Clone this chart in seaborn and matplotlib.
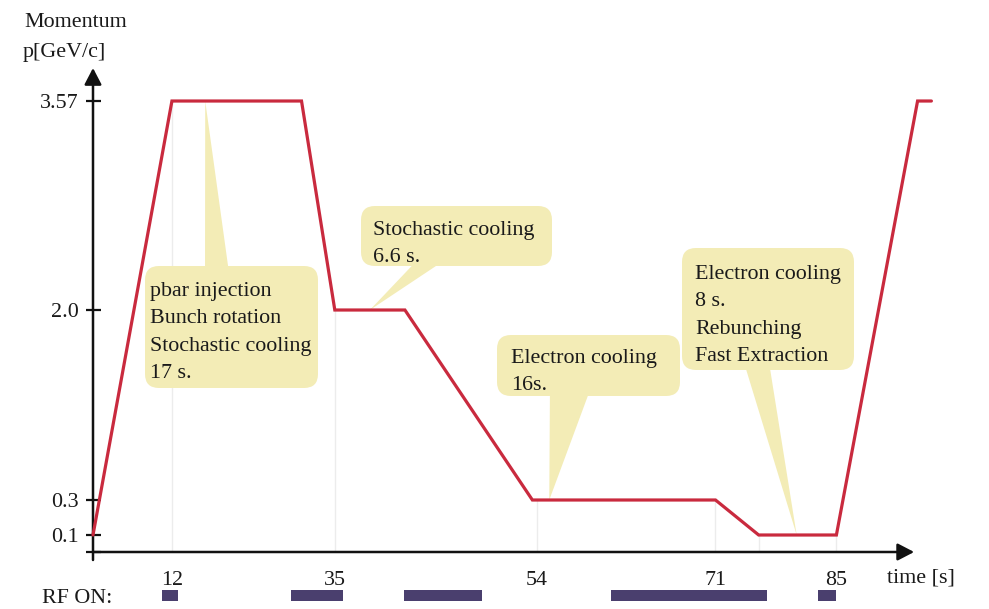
import numpy as np
import pandas as pd
import matplotlib
matplotlib.use("Agg")
import matplotlib.pyplot as plt
import seaborn as sns
from matplotlib.patches import FancyBboxPatch, Polygon
from matplotlib.transforms import Affine2D

# ---------------- data ----------------
time_s = [0, 12, 30.3, 35, 41.6, 53.6, 71, 76, 85, 94.4, 96]
momentum = [0.1, 3.57, 3.57, 2.0, 2.0, 0.3, 0.3, 0.1, 0.1, 3.57, 3.57]

x_tick_times = [12, 35, 54, 71, 85]
x_tick_labels = ["12", "35", "54", "71", "85"]
y_tick_values = [0, 0.1, 0.3, 2.0, 3.57]
y_tick_labels = ["", "0.1", "0.3", "2.0", "3.57"]

drop_times = [12, 35, 54, 71, 76, 85]

rf_start = [10.5, 28.8, 41.5, 61.1, 82.9]
rf_end = [12.85, 35.75, 48.9, 77.0, 85.0]

callout_texts = [
    ["pbar injection", "Bunch rotation", "Stochastic cooling", "17 s."],
    ["Stochastic cooling", "6.6 s."],
    ["Electron cooling", "16s."],
    ["Electron cooling", "8 s.", "Rebunching", "Fast Extraction"],
]
callout_tip_time = [16.7, 38.3, 55.2, 80.4]
callout_tip_mom = [3.57, 2.0, 0.3, 0.1]

# ---------------- layout (pixels) ----------------
W, H = 989, 609
# schematic (non-linear) axis: knots -> screen position
t_knots = [0, 12, 35, 54, 71, 85]
t_pos = [0, 79, 242, 444, 623, 744]
m_knots = [0, 0.1, 0.3, 2.0, 3.57]
m_pos = [0, 17, 52, 242, 451]


def piecewise(xk, yk):
    xk = np.asarray(xk, float)
    yk = np.asarray(yk, float)
    s0 = (yk[1] - yk[0]) / (xk[1] - xk[0])
    s1 = (yk[-1] - yk[-2]) / (xk[-1] - xk[-2])

    def f(v):
        v = np.asarray(v, float)
        out = np.interp(v, xk, yk)
        out = np.where(v < xk[0], yk[0] + (v - xk[0]) * s0, out)
        out = np.where(v > xk[-1], yk[-1] + (v - xk[-1]) * s1, out)
        return out
    return f


fx, ix = piecewise(t_knots, t_pos), piecewise(t_pos, t_knots)
fy, iy = piecewise(m_knots, m_pos), piecewise(m_pos, m_knots)

sns.set_style("white")
plt.rcParams["font.family"] = ["Liberation Serif", "DejaVu Serif"]
FS = 15.8
TXT = "#1a1a1a"
RED = "#c92a3e"
PURPLE = "#4a3f6e"
YEL = "#f3ecb6"

fig = plt.figure(figsize=(W / 100, H / 100), dpi=100)
fig.patch.set_facecolor("white")
ax = fig.add_axes([93 / W, (H - 552) / H, 839 / W, 484 / H])
ax.patch.set_alpha(0)

df = pd.DataFrame({"time": time_s, "momentum": momentum})
sns.lineplot(data=df, x="time", y="momentum", ax=ax, color=RED, lw=2.3,
             estimator=None, sort=False, zorder=4, clip_on=False)
for ln in ax.lines:
    ln.set_solid_joinstyle("miter")

ax.set_xscale("function", functions=(fx, ix))
ax.set_yscale("function", functions=(fy, iy))
XMAX = 96.07
YMAX = 3.818
ax.set_xlim(0, XMAX)
ax.set_ylim(0, YMAX)
ax.set_xlabel("")
ax.set_ylabel("")
for s in ax.spines.values():
    s.set_visible(False)

# faint drop lines
curve_at = np.interp(drop_times, time_s, momentum)
ax.vlines(drop_times, 0, curve_at, color="#ececec", lw=1, zorder=1)

ax.set_xticks(x_tick_times, x_tick_labels)
ax.set_yticks(y_tick_values, y_tick_labels)
ax.xaxis.set_minor_locator(matplotlib.ticker.NullLocator())
ax.yaxis.set_minor_locator(matplotlib.ticker.NullLocator())
ax.tick_params(axis="x", bottom=True, length=0, pad=14, labelsize=FS,
               labelcolor=TXT)
ax.tick_params(axis="y", left=True, direction="inout", length=10.8, width=1.6,
               color="#111111", pad=5, labelsize=FS, labelcolor=TXT)

# axis arrows
arr = dict(arrowstyle="-|>,head_length=1.0,head_width=0.52", lw=1.8,
           color="#111111", shrinkA=0, shrinkB=0, mutation_scale=10)
ax.annotate("", xy=(0, 1), xytext=(0, -8 / 484), xycoords="axes fraction",
            arrowprops=arr, annotation_clip=False)
ax.annotate("", xy=(94.0, 0), xytext=(0, 0), xycoords="data",
            arrowprops=arr, annotation_clip=False)

# pixel transform (top-left origin)
pxT = Affine2D().scale(1 / W, -1 / H).translate(0, 1) + fig.transFigure


def to_px(t, m):
    d = ax.transData.transform((t, m))
    f = fig.transFigure.inverted().transform(d)
    return f[0] * W, (1 - f[1]) * H


boxes = [(145, 266, 318, 388), (361, 206, 552, 266),
         (497, 335, 680, 396), (682, 248, 854, 370)]
bases = [((205, 280), (230, 280)), ((425, 252), (457, 252)),
         ((550, 382), (593, 382)), ((742, 356), (768, 356))]
text_left = [150, 373, 511, 695]
first_base = [296, 235, 363, 279]
LS = 27.3

for i, (x0, y0, x1, y1) in enumerate(boxes):
    bp = FancyBboxPatch((x0, y0), x1 - x0, y1 - y0,
                        boxstyle="round,pad=0,rounding_size=14",
                        transform=pxT, facecolor=YEL, edgecolor="none",
                        zorder=2, clip_on=False)
    ax.add_artist(bp)
    tip = to_px(callout_tip_time[i], callout_tip_mom[i])
    poly = Polygon([bases[i][0], bases[i][1], tip], closed=True,
                   transform=pxT, facecolor=YEL, edgecolor="none",
                   zorder=2, clip_on=False)
    ax.add_artist(poly)
    for j, line in enumerate(callout_texts[i]):
        ax.text(text_left[i], first_base[i] + j * LS, line, transform=pxT,
                ha="left", va="baseline", fontsize=FS, color=TXT, zorder=3)

# axis titles
fig.text(24 / W, 1 - 27 / H, "Momentum", ha="left", va="baseline",
         fontsize=FS, color=TXT)
fig.text(23 / W, 1 - 57 / H, "p[GeV/c]", ha="left", va="baseline",
         fontsize=FS, color=TXT)
fig.text(887 / W, 1 - 583 / H, "time [s]", ha="left", va="baseline",
         fontsize=FS, color=TXT)
fig.text(42 / W, 1 - 603 / H, "RF ON:", ha="left", va="baseline",
         fontsize=FS, color=TXT)

# RF ON bars
ax2 = fig.add_axes([93 / W, (H - 601) / H, 839 / W, 11 / H])
ax2.set_xscale("function", functions=(fx, ix))
ax2.barh(y=[0] * len(rf_start), width=np.array(rf_end) - np.array(rf_start),
         left=rf_start, height=1.0, color=PURPLE, edgecolor="none")
ax2.set_xlim(0, XMAX)
ax2.set_ylim(-0.5, 0.5)
ax2.axis("off")

ax.set_xlim(0, XMAX)
ax.set_ylim(0, YMAX)

fig.savefig("out.png", dpi=100, facecolor="white")
